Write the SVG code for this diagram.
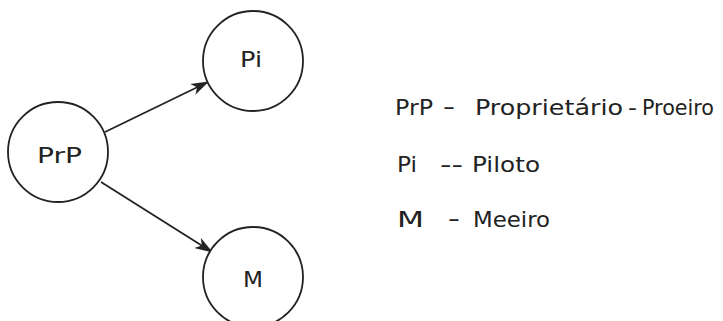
<svg xmlns="http://www.w3.org/2000/svg" width="723" height="321" viewBox="0 0 723 321">
<style>
.node{fill:#fff;stroke:#222;stroke-width:1.8}
.lbl{font-family:"DejaVu Sans","Liberation Sans",Arial,sans-serif;font-size:21px;fill:#222}
.leg{font-family:"DejaVu Sans","Liberation Sans",Arial,sans-serif;font-size:22px;fill:#222}
.edge{stroke:#222;stroke-width:1.8;fill:none}
</style>
<defs>
<marker id="ah" markerWidth="18" markerHeight="12" refX="17" refY="6" orient="auto" markerUnits="userSpaceOnUse" viewBox="0 0 18 12">
<path d="M0,0 L18,6 L0,12 L5,6 Z" fill="#222"/>
</marker>
</defs>
<rect width="723" height="321" fill="#fff"/>
<g id="connectors">
<line class="edge" x1="105" y1="132" x2="208" y2="82" marker-end="url(#ah)"/>
<line class="edge" x1="101" y1="182" x2="212" y2="252" marker-end="url(#ah)"/>
</g>
<g id="node-PrP">
<circle class="node" cx="58" cy="152" r="50"/>
<text class="lbl" x="37" y="163" textLength="45" lengthAdjust="spacingAndGlyphs">PrP</text>
</g>
<g id="node-Pi">
<circle class="node" cx="253" cy="61" r="50"/>
<text class="lbl" x="240" y="67" textLength="22" lengthAdjust="spacingAndGlyphs">Pi</text>
</g>
<g id="node-M">
<circle class="node" cx="253" cy="277" r="50"/>
<text class="lbl" x="243" y="287" textLength="20" lengthAdjust="spacingAndGlyphs">M</text>
</g>
<g id="legend">
<text class="leg" x="395" y="115" textLength="38" lengthAdjust="spacingAndGlyphs">PrP</text>
<text class="leg" x="443" y="115" textLength="12" lengthAdjust="spacingAndGlyphs">−</text>
<text class="leg" x="475" y="115" textLength="148" lengthAdjust="spacingAndGlyphs">Proprietário</text>
<text class="leg" x="628" y="115" textLength="9" lengthAdjust="spacingAndGlyphs">-</text>
<text class="leg" x="642" y="115" textLength="72" lengthAdjust="spacingAndGlyphs">Proeiro</text>
<text class="leg" x="397" y="172" textLength="20" lengthAdjust="spacingAndGlyphs">Pi</text>
<text class="leg" x="440" y="172" textLength="23" lengthAdjust="spacingAndGlyphs">--</text>
<text class="leg" x="472" y="172" textLength="68" lengthAdjust="spacingAndGlyphs">Piloto</text>
<text class="leg" x="397" y="227" textLength="27" lengthAdjust="spacingAndGlyphs">M</text>
<text class="leg" x="448" y="227" textLength="12" lengthAdjust="spacingAndGlyphs">−</text>
<text class="leg" x="473" y="227" textLength="77" lengthAdjust="spacingAndGlyphs">Meeiro</text>
</g>
</svg>
